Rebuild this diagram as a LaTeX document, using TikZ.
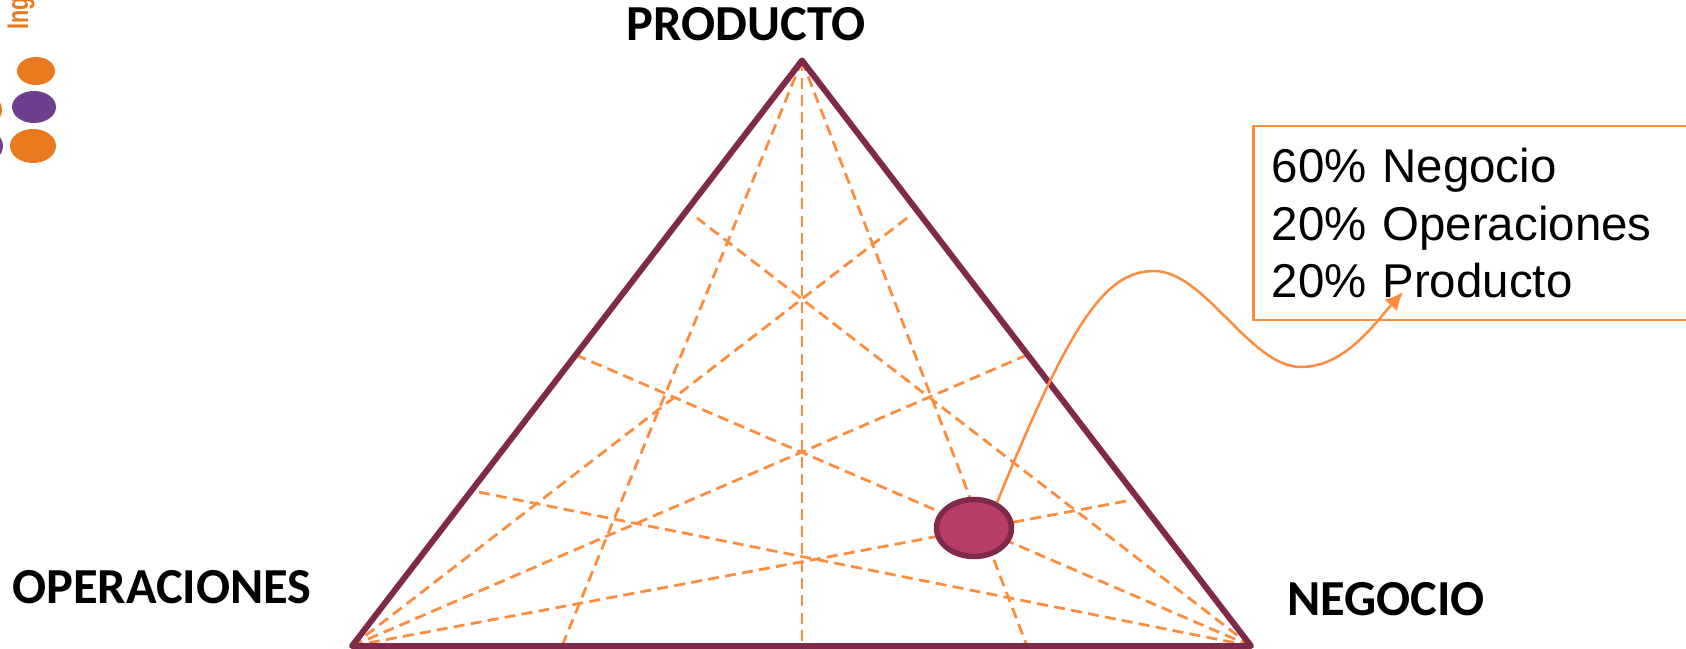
\documentclass[tikz,border=0pt]{standalone}
\usepackage{fontspec}
\usetikzlibrary{shapes.geometric, arrows.meta}
\setmainfont{Liberation Sans}
\newfontfamily\carlito{Carlito}
\definecolor{vino}{HTML}{7F2A4B}
\definecolor{rosa}{HTML}{B83C68}
\definecolor{naranja}{HTML}{FF8C3C}
\definecolor{logonaranja}{HTML}{E8791E}
\definecolor{logomorado}{HTML}{6E3F8F}
\begin{document}
\begin{tikzpicture}[
  lado/.style={draw=vino, line width=0.12cm, line join=round},
  guia/.style={draw=naranja, line width=0.055cm, dash pattern=on 0.22cm off 0.125cm},
  vertice/.style={font=\carlito\bfseries\fontsize{28.7}{32}\selectfont, inner sep=0pt},
  caja/.style={draw=naranja, line width=0.05cm, anchor=north west, text width=9.6cm, minimum height=3.88cm,
    inner xsep=0.37cm, inner ysep=0pt, align=left, font=\fontsize{27}{32.6}\selectfont},
  ovalo/.style={ellipse, draw=vino, fill=rosa, line width=0.11cm, minimum width=1.5cm, minimum height=1.14cm, inner sep=0pt},
  puntoN/.style={ellipse, fill=logonaranja, inner sep=0pt},
  puntoM/.style={ellipse, fill=logomorado, inner sep=0pt},
]
  \useasboundingbox (0, 0) rectangle (33.72, 12.96);
  \clip (0, 0) rectangle (33.72, 12.96);

  \coordinate (top) at (16.04, 11.75);
  \coordinate (izq) at (7.04, 0.04);
  \coordinate (der) at (25.02, 0.04);

  \coordinate (b1) at (11.24, 0.04);
  \coordinate (b2) at (16.04, 0.04);
  \coordinate (b3) at (20.54, 0.04);
  \coordinate (r1) at (18.14, 8.60);
  \coordinate (r2) at (20.54, 5.86);
  \coordinate (r3) at (22.64, 2.96);
  \coordinate (l1) at (13.94, 8.60);
  \coordinate (l2) at (11.52, 5.86);
  \coordinate (l3) at (9.46, 3.14);

  \draw[guia] (top) -- (b1);
  \draw[guia] (top) -- (b2);
  \draw[guia] (top) -- (b3);
  \draw[guia] (izq) -- (r1);
  \draw[guia] (izq) -- (r2);
  \draw[guia] (izq) -- (r3);
  \draw[guia] (der) -- (l1);
  \draw[guia] (der) -- (l2);
  \draw[guia] (der) -- (l3);

  \draw[lado] (top) -- (izq) -- (der) -- cycle;

  \node[vertice] (producto) at (14.92, 12.47) {PRODUCTO};
  \node[vertice] (operaciones) at (3.24, 1.22) {OPERACIONES};
  \node[vertice] (negocio) at (27.72, 0.98) {NEGOCIO};

  \node[ovalo] (punto) at (19.48, 2.4) {};
  \node[caja] (mezcla) at (25.04, 10.46) {60\% Negocio\\20\% Operaciones\\20\% Producto};

  \coordinate (destino) at (28.06, 7.12);
  \draw[draw=naranja, fill=none, line width=0.05cm, -{Latex[length=0.36cm, width=0.34cm]}]
    (punto.48) .. controls (21.4, 6.5) and (22.1, 7.54) .. (23.08, 7.54)
    .. controls (24.1, 7.54) and (25, 5.62) .. (26.02, 5.62)
    .. controls (26.9, 5.62) and (27.5, 6.5) .. (destino);

  \node[rotate=90, anchor=base west, inner sep=0pt, text=logonaranja, font=\bfseries\fontsize{17}{20}\selectfont] (ing) at (0.56, 12.36) {\scalebox{0.72}[1]{Ing}};
  \node[puntoN, minimum width=0.76cm, minimum height=0.56cm] (p1) at (0.72, 11.54) {};
  \node[puntoM, minimum width=0.88cm, minimum height=0.64cm] (p2) at (0.68, 10.82) {};
  \node[puntoN, minimum width=0.92cm, minimum height=0.68cm] (p3) at (0.66, 10.04) {};
  \node[puntoN, minimum width=0.72cm, minimum height=0.64cm] (p4) at (-0.32, 10.76) {};
  \node[puntoM, minimum width=0.84cm, minimum height=0.68cm] (p5) at (-0.36, 10.04) {};
\end{tikzpicture}
\end{document}
